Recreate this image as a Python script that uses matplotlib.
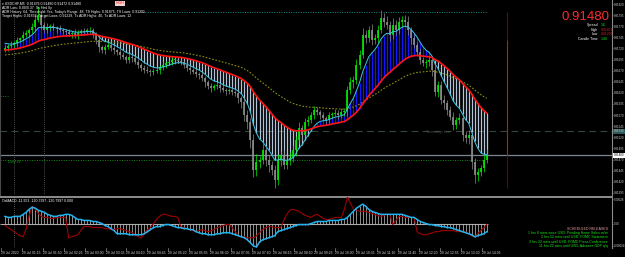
"""USDCHF M5 chart with MA ribbon and OsMA sub-window (MT4 style)."""

import matplotlib

matplotlib.use("Agg")
import matplotlib.pyplot as plt
import matplotlib.transforms as mtransforms
import numpy as np

W, H = 625, 257

# prices are points above 0.91000 (1 point = 0.00001)
BASE = 0.91
first_open = 716
close_pts = [
    721, 725, 728, 732, 739, 743, 750, 755, 761, 768,
    784, 795, 773, 761, 768, 770, 766, 764, 761, 759,
    757, 752, 755, 750, 755, 759, 757, 761, 761, 752,
    739, 723, 716, 723, 728, 721, 716, 712, 705, 701,
    694, 701, 698, 689, 683, 676, 671, 669, 667, 669,
    671, 678, 683, 687, 689, 694, 694, 692, 689, 683,
    676, 671, 667, 662, 660, 653, 644, 635, 631, 635,
    638, 631, 626, 624, 626, 622, 620, 608, 599, 570,
    554, 514, 446, 464, 469, 491, 469, 458, 446, 424,
    469, 480, 458, 469, 473, 491, 514, 541, 525, 554,
    559, 570, 581, 577, 570, 563, 559, 570, 572, 575,
    570, 577, 579, 626, 644, 649, 683, 705, 750, 743,
    761, 739, 743, 761, 788, 779, 773, 750, 773, 761,
    779, 784, 779, 761, 743, 728, 712, 694, 687, 689,
    694, 671, 622, 638, 604, 597, 581, 566, 548, 559,
    563, 525, 518, 525, 464, 435, 442, 451, 469, 480,
]
upper_wick = [
    6, 4, 8, 5, 7, 3, 9, 6, 5, 10,
    12, 20, 8, 6, 9, 4, 7, 5, 8, 6,
    5, 7, 4, 9, 6, 5, 8, 4, 7, 6,
    5, 9, 4, 7, 6, 5, 8, 3, 6, 7,
    5, 8, 6, 4, 7, 5, 6, 9, 4, 6,
    7, 5, 8, 4, 6, 9, 5, 7, 4, 6,
    8, 5, 6, 7, 4, 9, 5, 6, 8, 4,
    7, 5, 9, 6, 4, 7, 5, 8, 6, 10,
    12, 9, 14, 18, 10, 16, 8, 12, 9, 11,
    14, 10, 12, 8, 15, 11, 9, 13, 7, 10,
    8, 6, 9, 7, 5, 8, 6, 7, 5, 9,
    6, 8, 7, 10, 12, 9, 14, 11, 16, 12,
    10, 14, 9, 12, 18, 11, 13, 8, 15, 10,
    12, 9, 11, 14, 8, 10, 7, 9, 6, 8,
    10, 7, 12, 9, 8, 11, 6, 9, 10, 7,
    12, 8, 9, 11, 7, 10, 8, 6, 12, 14,
]
lower_wick = [
    5, 7, 4, 8, 6, 5, 7, 4, 9, 6,
    8, 5, 10, 7, 6, 8, 5, 9, 4, 7,
    6, 5, 8, 6, 9, 4, 7, 5, 6, 8,
    9, 12, 6, 8, 5, 7, 9, 6, 8, 5,
    7, 6, 9, 5, 8, 6, 7, 5, 9, 6,
    5, 8, 6, 7, 4, 6, 8, 5, 7, 6,
    7, 9, 5, 6, 8, 7, 10, 6, 8, 5,
    6, 8, 5, 9, 7, 6, 8, 10, 12, 14,
    15, 18, 16, 12, 14, 10, 13, 15, 11, 18,
    12, 14, 10, 9, 11, 8, 12, 7, 10, 8,
    9, 7, 8, 6, 9, 7, 8, 6, 7, 5,
    8, 6, 9, 10, 8, 12, 9, 10, 7, 11,
    9, 12, 8, 10, 7, 11, 9, 13, 8, 10,
    8, 11, 9, 10, 12, 8, 10, 9, 7, 11,
    9, 14, 10, 12, 9, 13, 11, 8, 12, 10,
    9, 14, 11, 12, 16, 18, 13, 10, 8, 6,
]

# OsMA window, units of 0.00001
osma_main = [
    7, 6, 6, 7, 7, 7, 9, 11, 14, 16,
    15, 13, 12, 11, 9, 8, 7, 7, 8, 8,
    9, 9, 8, 6, 4, 4, 3, 3, 3, 2,
    2, 1, 0, -2, -3, -5, -7, -10, -10, -10,
    -10, -11, -11, -11, -11, -11, -10, -8, -6, -4,
    -3, -3, -2, -1, -1, -2, -3, -4, -4, -5,
    -5, -6, -6, -8, -9, -10, -10, -11, -11, -11,
    -10, -10, -9, -9, -9, -10, -11, -12, -13, -14,
    -16, -19, -22, -23, -18, -16, -15, -14, -13, -12,
    -8, -7, -6, -5, -4, -3, -2, -1, -1, -1,
    -1, 0, 1, 2, 2, 2, 2, 3, 3, 3,
    3, 4, 4, 6, 9, 12, 15, 17, 19, 17,
    14, 12, 11, 10, 9, 9, 9, 9, 9, 9,
    9, 9, 8, 7, 6, 6, 4, 2, 1, 0,
    -1, -1, -2, -2, -3, -3, -4, -4, -5, -6,
    -7, -8, -9, -10, -11, -13, -12, -11, -10, -8,
]
osma_signal = [
    -2, -4, -6, -8, -10, -12, -13, -5, 8, 17,
    14, 10, 7, 6, 6, 5, 5, 6, 6, 6,
    6, -14, -13, -12, -11, -7, -3, -3, -3, -4,
    -4, -4, -4, -5, -5, -6, -6, -5, -5, -6,
    -7, -8, -9, -11, -13, -14, -10, -6, -4, 0,
    4, 7, 9, 9, 8, 7, 7, 6, -3, -4,
    -5, -6, -7, -8, -7, -6, -7, -8, -7, -6,
    -4, -3, -2, -1, -1, -4, -8, -12, -13, -13,
    -14, -14, -14, -12, -9, -6, -4, -3, -3, -4,
    -4, -4, 3, 9, 13, 14, 13, 12, 10, 8,
    7, 6, 8, 9, 7, 5, 4, 4, 5, 6,
    6, 6, 14, 26, 20, 14, 13, 12, 12, 12,
    11, 10, 9, 8, 7, 8, 9, 9, -1, 3,
    7, 7, 6, 6, 6, 6, -8, -10, -11, -11,
    -10, -9, -8, -8, -7, -7, -7, -7, -7, -8,
    -8, -8, -8, -10, -12, -13, -10, -7, -4, -1,
]

time_labels = [
    "29 Jul 2020", "29 Jul 01:15", "29 Jul 01:50", "29 Jul 02:25", "29 Jul 03:00",
    "29 Jul 03:35", "29 Jul 04:10", "29 Jul 04:45", "29 Jul 05:20", "29 Jul 05:55",
    "29 Jul 06:30", "29 Jul 07:05", "29 Jul 07:40", "29 Jul 08:15", "29 Jul 08:50",
    "29 Jul 09:25", "29 Jul 10:00", "29 Jul 10:35", "29 Jul 11:10", "29 Jul 11:45",
    "29 Jul 12:20", "29 Jul 12:55", "29 Jul 13:30", "29 Jul 14:05",
]

# moving averages: span and starting level (points)
fast_span, fast_seed = 8, 735
slow_span, slow_seed = 32, 716
long_span, long_seed = 66, 705

bid_pts = 480
daily_r1 = 802
yesterday_low = 534
daily_s1 = 469
daily_pivot = 613
marker_bars = [3, 13]
event_bar = 165.7
event_bright_top = 739
event_bottom = 406

osma_ticks = [24, 0, -22]
osma_tick_labels = ["0.00026", "0.00", "-0.00024"]

info_rows = [
    ("Spread", "1.6", "#19e619"),
    ("High", "0.91811", "#d02020"),
    ("Low", "0.91291", "#d02020"),
    ("Candle Time", "1:40", "#19e619"),
]
releases = [
    "1 hrs 8 mins since USD: Pending Home Sales m/m",
    "2 hrs 52 mins until USD: FOMC Statement",
    "3 hrs 22 mins until USD: FOMC Press Conference",
    "11 hrs 22 mins until USD: Advance GDP q/q",
]

BAR_PX, X0 = 3.03, 5
PTS_PX, TOP_PTS = 2.25, 829
AXIS_FONT = 2.05

plt.rcParams["font.family"] = ["Liberation Sans", "DejaVu Sans"]


def px_box(left, top, right, bottom):
    return [left / W, 1 - bottom / H, (right - left) / W, (bottom - top) / H]


def ftext(fig, x, y, s, **kw):
    kw.setdefault("va", "center")
    kw.setdefault("color", "white")
    kw.setdefault("fontsize", 2.5)
    fig.text(x / W, 1 - y / H, s, **kw)


def ema(values, span, seed):
    alpha = 2.0 / (span + 1)
    out, level = [], seed
    for v in values:
        level += alpha * (v - level)
        out.append(level)
    return np.array(out)


def price_label(pts):
    return f"{BASE + pts / 1e5:.5f}"


n = len(close_pts)
bars = np.arange(n)
close = np.array(close_pts, dtype=float)
open_ = np.concatenate([[first_open], close[:-1]])
high = np.maximum(open_, close) + np.array(upper_wick)
low = np.minimum(open_, close) - np.array(lower_wick)
bull = close >= open_

fast = ema(close, fast_span, fast_seed)
slow = ema(close, slow_span, slow_seed)
long_ma = ema(close, long_span, long_seed)

fig = plt.figure(figsize=(W / 100, H / 100), dpi=100, facecolor="black")
x_lo, x_hi = -X0 / BAR_PX, (612 - X0) / BAR_PX

# ---- main price window
ax = fig.add_axes(px_box(0, 0, 612, 195))
ax.set_facecolor("black")
ax.set_xlim(x_lo, x_hi)
ax.set_ylim(TOP_PTS - 195 * PTS_PX, TOP_PTS)

band_cols = np.where(fast > slow, "#1414ff", "#b3c3d8")
ax.vlines(bars, fast, slow, colors=band_cols, lw=0.9, zorder=2)

candle_cols = np.where(bull, "#00ee00", "#8e8e8e")
ax.vlines(bars, low, high, colors=candle_cols, lw=0.5, zorder=3)
body_lo = np.minimum(open_, close)
body_hi = np.maximum(np.maximum(open_, close), body_lo + 1.5)
ax.vlines(bars, body_lo, body_hi, colors=candle_cols, lw=1.2, zorder=3)

ax.plot(bars, long_ma, color="#8c8c12", lw=0.8, ls=(0, (1.5, 1.5)), zorder=4)
ax.plot(bars, fast, color="#3cc8e6", lw=0.7, zorder=5)
ax.plot(bars, slow, color="#ff1414", lw=1.2, zorder=6)

ax.hlines(daily_r1, 44.5, n - 1, colors="#148c8c", lw=0.7, linestyles=(0, (1, 1.5)), zorder=1)
ax.axhline(yesterday_low, color="#36463e", lw=0.8, ls=(0, (6, 4)), zorder=1)
ax.axhline(bid_pts, color="#7c8594", lw=0.9, zorder=1)
ax.hlines(daily_s1, x_lo, n - 2, colors="#1a8c1a", lw=0.7, linestyles=(0, (1, 1.5)), zorder=1)
ax.hlines(daily_pivot, x_lo, 1, colors="#1a8c1a", lw=0.7, linestyles=(0, (1, 1.5)), zorder=1)
for b in marker_bars:
    ax.vlines(b, TOP_PTS - 195 * PTS_PX, TOP_PTS - 15 * PTS_PX,
              colors="#6a6a6a", lw=0.6, linestyles=(0, (1, 1.5)), zorder=1)
ax.vlines(event_bar, event_bright_top, daily_r1, colors="#7a0000", lw=0.8)
ax.vlines(event_bar, bid_pts, event_bright_top, colors="#ff0000", lw=0.8)
ax.vlines(event_bar, event_bottom, bid_pts, colors="#6a0000", lw=0.8)
ax.text(139, yesterday_low - 3, "Yesterdays Low", color="#4a4a4a", fontsize=2.4,
        va="center")
ax.text(1, daily_s1 - 4, "Daily S1", color="#1a8c1a", fontsize=2.4, va="center")

ax.yaxis.tick_right()
ticks = list(range(395, TOP_PTS, 25))
ax.set_yticks(ticks)
ax.set_yticklabels([price_label(t) for t in ticks])
ax.set_xticks([])
ax.tick_params(axis="y", colors="#8a8a8a", labelcolor="#d8d8d8", length=1,
               width=0.5, labelsize=AXIS_FONT, pad=0.3)
for name, spine in ax.spines.items():
    spine.set_visible(name in ("right", "left"))
    spine.set_color("#8a8a8a" if name == "right" else "#4a4a4a")
    spine.set_linewidth(0.8)

axis_tr = mtransforms.blended_transform_factory(ax.transAxes, ax.transData)
ax.text(1.003, bid_pts, price_label(bid_pts), transform=axis_tr, fontsize=AXIS_FONT,
        color="black", va="center", ha="left",
        bbox=dict(facecolor="white", edgecolor="none", pad=0.3))
ax.text(1.003, yesterday_low, price_label(yesterday_low), transform=axis_tr,
        fontsize=AXIS_FONT, color="#d0d0d0", va="center", ha="left",
        bbox=dict(facecolor="#2c5a5a", edgecolor="none", pad=0.3))

# ---- OsMA window
ax2 = fig.add_axes(px_box(0, 197, 612, 248))
ax2.set_facecolor("black")
ax2.set_xlim(x_lo, x_hi)
ax2.set_ylim(-24, 26)
ax2.vlines(bars, 0, osma_main, colors="#c8c8c8", lw=0.5, zorder=2)
ax2.hlines(0, x_lo, n - 0.5, colors="#a8a8a8", lw=0.8, zorder=1)
ax2.plot(bars, osma_signal, color="#a00000", lw=0.8, zorder=3)
ax2.plot(bars, osma_main, color="#22b4f0", lw=1.1, zorder=4)
ax2.vlines(marker_bars[0], -24, 26, colors="#6a6a6a", lw=0.6,
           linestyles=(0, (1, 1.5)), zorder=1)
ax2.yaxis.tick_right()
ax2.set_yticks(osma_ticks)
ax2.set_yticklabels(osma_tick_labels)
ax2.set_xticks([])
ax2.tick_params(axis="y", colors="#8a8a8a", labelcolor="#d8d8d8", length=1,
                width=0.5, labelsize=AXIS_FONT, pad=0.3)
for name, spine in ax2.spines.items():
    spine.set_visible(name in ("right", "top"))
    spine.set_color("#8c8c8c")
    spine.set_linewidth(1.4 if name == "top" else 0.8)

# ---- texts
ftext(fig, 2, 3.5, "\u25be USDCHF,M5  0.91476 0.91480 0.91472 0.91480")
ftext(fig, 2, 7.5, "ADR Lots: 0.00/0.37  Ss Hml 0y")
ftext(fig, 2, 12, "ADR History: 64, Threshold: Yes, Today's Range: 48, "
                  "TS Highs: 0.91875, TS Lows: 0.91291")
ftext(fig, 2, 16.5, "Target Highs: 0.91834, Target Lows: 0.91228, "
                    "Tx ADR Highs: 40, Tx ADR Lows: 12")
ftext(fig, 120, 3.5, "HIGH", color="#e02020", ha="center",
      bbox=dict(facecolor="#f4d0d0", edgecolor="none", pad=0.6))

ftext(fig, 609, 17.5, price_label(bid_pts), ha="right", fontsize=9.5,
      color="#ff2a2a")
for k, (label, value, col) in enumerate(info_rows):
    y = 25 + 4.7 * k
    ftext(fig, 598, y, label, ha="right")
    ftext(fig, 601, y, value, ha="left", color=col)

ftext(fig, 2, 200.5, "OsMACD -11.953 -120.7997 -120.7997 0.000")
ftext(fig, 608, 228.5, "SCHEDULED RELEASES", ha="right", color="#e6a0a0")
for k, line in enumerate(releases):
    ftext(fig, 608, 233 + 4.3 * k, line, ha="right", color="#19e619")

for k, label in enumerate(time_labels):
    x = 1 + 20.9 * k
    ftext(fig, x, 253, label, ha="left", fontsize=2.4, color="#d8d8d8")
    fig.add_artist(plt.Line2D([x / W, x / W], [1 - 248 / H, 1 - 250.5 / H],
                              color="#8a8a8a", lw=0.5))

fig.savefig("out.png", dpi=100, facecolor="black")
